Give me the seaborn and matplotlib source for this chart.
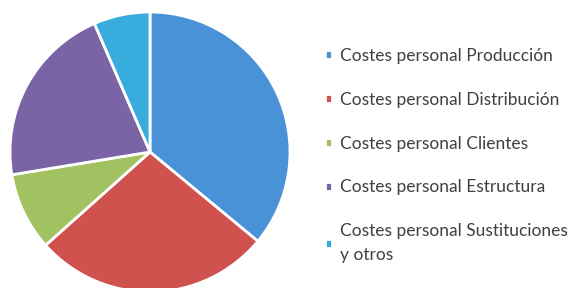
import matplotlib
matplotlib.use('Agg')
import matplotlib.pyplot as plt
import seaborn as sns

labels = [
    'Costes personal Producción',
    'Costes personal Distribución',
    'Costes personal Clientes',
    'Costes personal Estructura',
    'Costes personal Sustituciones\ny otros',
]
shares = [36.0, 27.4, 9.0, 21.1, 6.5]
colors = ['#4a92d8', '#d0524f', '#a2c261', '#7b64a6', '#38acdc']

sns.set_theme(style='white')
plt.rcParams['font.family'] = ['Lato', 'DejaVu Sans']

fig = plt.figure(figsize=(5.83, 2.88), dpi=100)
ax = fig.add_axes([10 / 583, -4 / 288, 280 / 583, 280 / 288])
wedges, _ = ax.pie(
    shares,
    colors=colors,
    startangle=90,
    counterclock=False,
    wedgeprops={'edgecolor': 'white', 'linewidth': 2},
)
ax.set_xlim(-1, 1)
ax.set_ylim(-1, 1)
ax.set_aspect('equal')

leg = fig.legend(
    wedges, labels,
    loc='upper left',
    bbox_to_anchor=(325 / 583, 1 - 48 / 288),
    frameon=False,
    fontsize=12.5,
    handlelength=0.4,
    handleheight=0.4,
    handletextpad=0.45,
    labelspacing=1.6,
    borderaxespad=0,
    borderpad=0,
)
for t in leg.get_texts():
    t.set_color('#404040')
leg.get_texts()[-1].set_linespacing(1.6)

fig.savefig('out.png', dpi=100)
